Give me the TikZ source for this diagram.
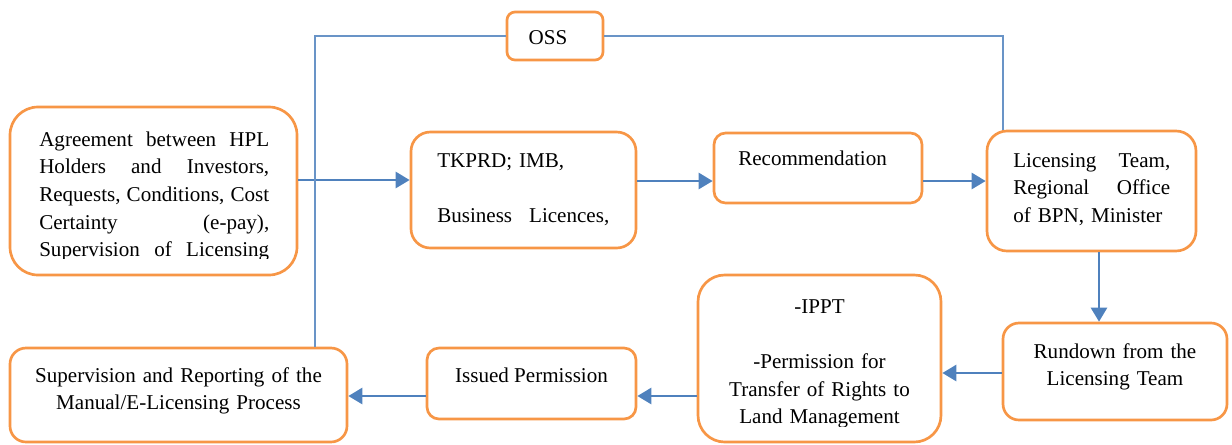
\documentclass[tikz,border=0pt]{standalone}
\usepackage{fontspec}
\setmainfont{Liberation Serif}
\usetikzlibrary{arrows.meta}
\definecolor{boxorange}{HTML}{F79646}
\definecolor{lineblue}{HTML}{4F81BD}
\tikzset{
  box/.style={draw=boxorange, line width=2pt, fill=white, rectangle, inner sep=0pt},
  txt/.style={inner sep=0pt, font=\fontsize{15.8pt}{20.8pt}\selectfont},
  flow/.style={draw=lineblue, line width=2pt, -{Triangle[length=10.5pt,width=12pt]}},
  link/.style={draw=lineblue!85, line width=1.1pt},
}
\newcommand{\jline}[2]{\leavevmode\hbox to #1{#2}}
\begin{document}
\begin{tikzpicture}[x=0.75pt,y=-0.75pt]
\useasboundingbox (0,0) rectangle (1232,444);
% boxes
\node[box, minimum width=72pt, minimum height=36pt, rounded corners=6pt] (oss) at (555,36) {};
\node[box, minimum width=215.25pt, minimum height=126pt, rounded corners=21pt] (a) at (153.5,191) {};
\node[box, minimum width=168.75pt, minimum height=87pt, rounded corners=14.5pt] (tk) at (523.5,190) {};
\node[box, minimum width=156pt, minimum height=52.5pt, rounded corners=8.75pt] (rec) at (818,168) {};
\node[box, minimum width=156.75pt, minimum height=90pt, rounded corners=15pt] (lic) at (1091.5,191) {};
\node[box, minimum width=168pt, minimum height=72.75pt, rounded corners=12pt] (run) at (1115,371.5) {};
\node[box, minimum width=182.25pt, minimum height=125.25pt, rounded corners=20pt] (ippt) at (819.5,358.5) {};
\node[box, minimum width=156.75pt, minimum height=53.25pt, rounded corners=9pt] (iss) at (531.5,383.5) {};
\node[box, minimum width=252.75pt, minimum height=70.5pt, rounded corners=12pt] (sup) at (178.5,395) {};
% texts
\node[txt, anchor=base] (tOSS) at (548,44) {OSS};
\begin{scope}
  \clip (0,0) rectangle (1232,258);
  \node[txt, text width=172.5pt, align=left, anchor=base west] (tA) at (39,146)
    {\jline{172.5pt}{Agreement\hfill between\hfill HPL}\\
     \jline{172.5pt}{Holders\hfill and\hfill Investors,}\\
     \jline{172.5pt}{Requests,\hfill Conditions,\hfill Cost}\\
     \jline{172.5pt}{Certainty\hfill (e-pay),}\\
     \jline{172.5pt}{Supervision\hfill of\hfill Licensing}};
\end{scope}
\node[txt, text width=129pt, align=left, anchor=base west] (tTK) at (437,167)
  {TKPRD; IMB,\\[20.8pt]\jline{129pt}{Business\hfill Licences,}};
\node[txt, anchor=base west] (tRec) at (738,165) {Recommendation};
\node[txt, text width=117.75pt, align=left, anchor=base west] (tLic) at (1013,167)
  {\jline{117.75pt}{Licensing\hfill Team,}\\
   \jline{117.75pt}{Regional\hfill Office}\\
   of BPN, Minister};
\node[txt, text width=160pt, align=center, anchor=base] (tRun) at (1115,358)
  {Rundown from the\\Licensing Team};
\begin{scope}
  \clip (0,0) rectangle (1232,426);
  \node[txt, text width=170pt, align=center, anchor=base] (tIPPT) at (819.5,313)
    {-IPPT\\[20.8pt]-Permission for\\Transfer of Rights to\\Land Management};
\end{scope}
\node[txt, anchor=base] (tIss) at (531.5,382) {Issued Permission};
\node[txt, text width=240pt, align=center, anchor=base] (tSup) at (178.5,382)
  {Supervision and Reporting of the\\Manual/E-Licensing Process};
% helper coordinates
\coordinate (h180) at (0,180);
\coordinate (h181) at (0,181);
\coordinate (h373) at (0,373);
\coordinate (h396) at (0,396);
\coordinate (v1099) at (1099,0);
\coordinate (v315) at (315,0);
\coordinate (v1003) at (1003,0);
% connectors
\draw[flow] (a.east |- h180) -- (tk.west |- h180);
\draw[flow] (tk.east |- h181) -- (rec.west |- h181);
\draw[flow] (rec.east |- h181) -- (lic.west |- h181);
\draw[flow] (v1099 |- lic.south) -- (v1099 |- run.north);
\draw[flow] (run.west |- h373) -- (ippt.east |- h373);
\draw[flow] (ippt.west |- h396) -- (iss.east |- h396);
\draw[flow] (iss.west |- h396) -- (sup.east |- h396);
\draw[link] (v315 |- sup.north) |- (oss.west);
\draw[link] (oss.east) -| (v1003 |- lic.north);
\end{tikzpicture}
\end{document}
